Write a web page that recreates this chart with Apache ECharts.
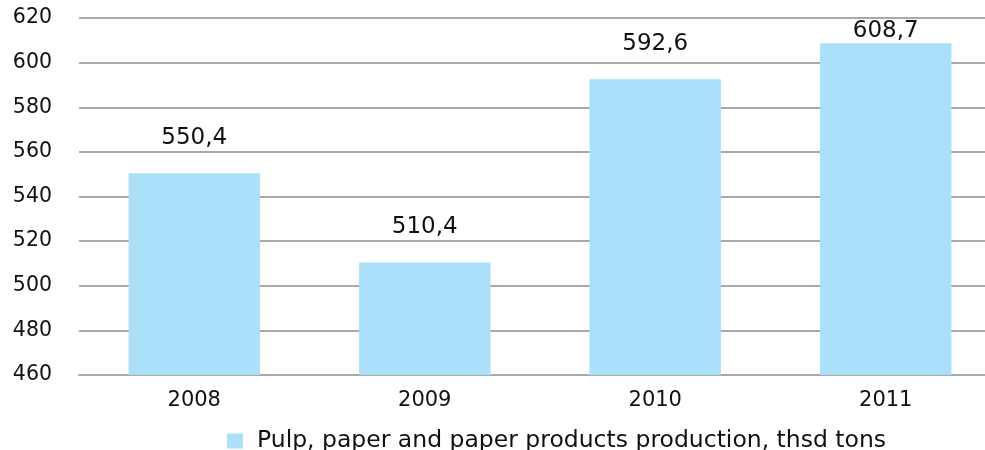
<!DOCTYPE html>
<html>
<head>
<meta charset="utf-8">
<script src="https://cdn.jsdelivr.net/npm/echarts@6/dist/echarts.min.js"></script>
<style>
  html, body { margin: 0; padding: 0; background: #fff; overflow: hidden; }
  /* the plot runs past the right edge of the page, so the canvas is a little wider */
  #chart { width: 1001px; height: 450px; }
</style>
</head>
<body>
<div id="chart"></div>
<script>
// Production volumes by year
const years = ['2008', '2009', '2010', '2011'];
const production = [550.4, 510.4, 592.6, 608.7];
const seriesName = 'Pulp, paper and paper products production, thsd tons';

const FONT = 'DejaVu Sans';
const GRID_COLOR = '#a9a9a9';

// Decimal comma formatting for value labels
const fmt = v => v.toFixed(1).replace('.', ',');

const barData = production.map(v => {
  const item = { value: v };
  // the tallest bar's label sits close to its top so it stays inside the plot
  if (v > 600) item.label = { distance: 1 };
  return item;
});

const chart = echarts.init(document.getElementById('chart'));
chart.setOption({
  animation: false,
  backgroundColor: '#ffffff',
  textStyle: { fontFamily: FONT },
  grid: { left: 79, right: 0, top: 18, bottom: 75, containLabel: false },
  legend: {
    data: [seriesName],
    left: 222,
    top: 424,
    itemWidth: 16,
    itemHeight: 15,
    itemGap: 10,
    icon: 'rect',
    textStyle: { fontFamily: FONT, fontSize: 23.5, color: '#111', padding: [0, 0, 0, 9] }
  },
  xAxis: {
    type: 'category',
    data: years,
    axisLine: { show: true, lineStyle: { color: GRID_COLOR, width: 2 } },
    axisTick: { show: false },
    axisLabel: { fontFamily: FONT, fontSize: 21, color: '#111', margin: 15 }
  },
  yAxis: {
    type: 'value',
    min: 460,
    max: 620,
    interval: 20,
    axisLine: { show: false },
    axisTick: { show: false },
    axisLabel: { fontFamily: FONT, fontSize: 20.5, color: '#111', margin: 27 },
    splitLine: { show: true, lineStyle: { color: GRID_COLOR, width: 2 } }
  },
  series: [{
    name: seriesName,
    type: 'bar',
    data: barData,
    barWidth: '57%',
    itemStyle: { color: '#abe0fb' },
    z: 3,
    label: {
      show: true,
      position: 'top',
      distance: 24,
      fontFamily: FONT,
      fontSize: 23,
      color: '#111',
      formatter: p => fmt(p.value)
    }
  }]
});
</script>
</body>
</html>
